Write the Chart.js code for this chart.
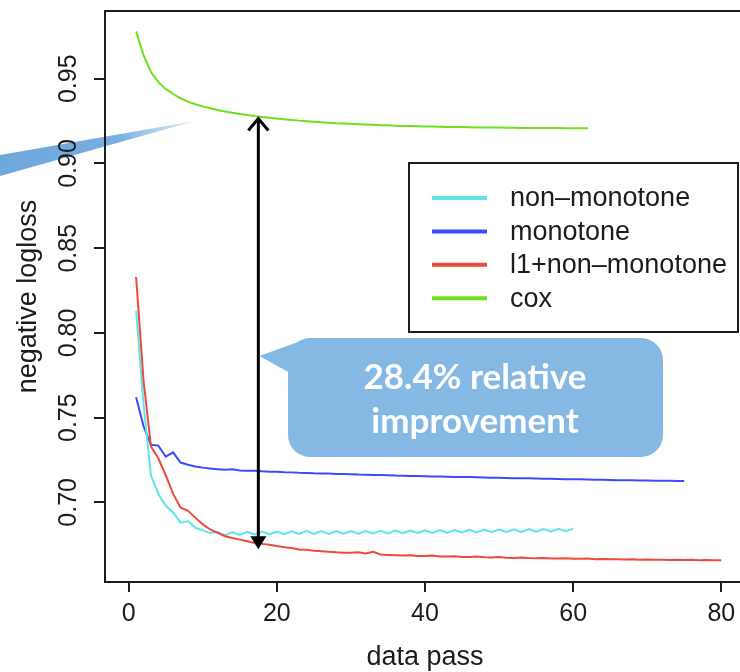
<!DOCTYPE html>
<html>
<head>
<meta charset="utf-8">
<script src="https://cdn.jsdelivr.net/npm/chart.js@4"></script>
<style>
  html, body { margin: 0; padding: 0; overflow: hidden; background: #fff; }
  #wrap { width: 750px; height: 672px; }
</style>
</head>
<body>
<div id="wrap"><canvas id="chart" width="750" height="672"></canvas></div>
<script>
// negative logloss per data pass
const seriesNames = ["non\u2013monotone", "monotone", "l1+non\u2013monotone", "cox"];
const seriesColors = ["#5ee4ea", "#3a4cfa", "#ec4a3c", "#70df1e"];

const nonMonotone = [
  0.813, 0.758, 0.716, 0.705, 0.698, 0.694, 0.688, 0.689, 0.685, 0.6835,
  0.682, 0.6825, 0.6805, 0.6825, 0.6808, 0.6826, 0.681, 0.6828, 0.6812, 0.6828,
  0.6812, 0.6829, 0.6813, 0.683, 0.6814, 0.683, 0.6814, 0.683, 0.6815, 0.6831,
  0.6815, 0.6831, 0.6816, 0.6832, 0.6817, 0.6833, 0.6818, 0.6834, 0.6819, 0.6835,
  0.682, 0.6836, 0.6821, 0.6837, 0.6822, 0.6838, 0.6823, 0.6839, 0.6824, 0.684,
  0.6825, 0.6841, 0.6826, 0.6842, 0.6827, 0.6843, 0.6828, 0.6844, 0.683, 0.6845
];
const monotone = [
  0.762, 0.745, 0.734, 0.7335, 0.727, 0.7295, 0.7235, 0.7222, 0.7212, 0.7205,
  0.72, 0.7196, 0.7192, 0.7196, 0.7188, 0.7186, 0.7187, 0.7183, 0.7181, 0.718,
  0.7178, 0.7177, 0.7175, 0.7174, 0.7172, 0.7171, 0.717, 0.7168, 0.7167, 0.7166,
  0.7164, 0.7163, 0.7162, 0.7161, 0.716, 0.7158, 0.7157, 0.7156, 0.7155, 0.7154,
  0.7153, 0.7152, 0.7151, 0.715, 0.715, 0.7149, 0.7148, 0.7147, 0.7146, 0.7145,
  0.7144, 0.7143, 0.7143, 0.7142, 0.7141, 0.714, 0.7139, 0.7138, 0.7137, 0.7137,
  0.7136, 0.7135, 0.7134, 0.7133, 0.7132, 0.7131, 0.7131, 0.713, 0.7129, 0.7129,
  0.7128, 0.7127, 0.7127, 0.7126, 0.7126
];
const l1NonMonotone = [
  0.833, 0.772, 0.733, 0.726, 0.716, 0.705, 0.697, 0.695, 0.691, 0.687,
  0.684, 0.682, 0.68, 0.679, 0.678, 0.677, 0.676, 0.6755, 0.675, 0.6743,
  0.6735, 0.673, 0.6722, 0.672, 0.6715, 0.6712, 0.6708, 0.6705, 0.6703, 0.6702,
  0.6705, 0.6698, 0.6708, 0.6692, 0.669, 0.6688, 0.6686, 0.6688, 0.6684, 0.6683,
  0.6686, 0.6681, 0.668, 0.6682, 0.6678, 0.6677, 0.668, 0.6676, 0.6675, 0.6677,
  0.6673, 0.6672, 0.6674, 0.6671, 0.667, 0.6672, 0.6669, 0.6668, 0.667, 0.6667,
  0.6667, 0.6668, 0.6665, 0.6666, 0.6664, 0.6665, 0.6663, 0.6664, 0.6662, 0.6663,
  0.6661, 0.6662, 0.666, 0.6661, 0.666, 0.6662, 0.6659, 0.666, 0.6658, 0.6659
];
const cox = [
  0.978, 0.964, 0.954, 0.948, 0.944, 0.941, 0.9385, 0.9365, 0.935, 0.9337,
  0.9326, 0.9316, 0.9307, 0.9299, 0.9292, 0.9286, 0.928, 0.9275, 0.927, 0.9265,
  0.9261, 0.9257, 0.9253, 0.925, 0.9247, 0.9244, 0.9241, 0.9238, 0.9236, 0.9234,
  0.9232, 0.923, 0.9228, 0.9226, 0.9225, 0.9223, 0.9222, 0.9221, 0.922, 0.9219,
  0.9218, 0.9217, 0.9216, 0.9215, 0.9215, 0.9214, 0.9213, 0.9213, 0.9212, 0.9212,
  0.9211, 0.9211, 0.921, 0.921, 0.921, 0.9209, 0.9209, 0.9209, 0.9208, 0.9208,
  0.9208, 0.9208
];

const xTicks = [0, 20, 40, 60, 80];
const yTicks = [0.70, 0.75, 0.80, 0.85, 0.90, 0.95];

// arrow between cox and the best curve at pass 17.5
const arrowPass = 17.5;
const arrowFrom = 0.9277;
const arrowTo = 0.6723;
const calloutLines = ["28.4% relative", "improvement"];

const allSeries = [nonMonotone, monotone, l1NonMonotone, cox];
const inkColor = "#1c1c1c";
const baseFont = "'Liberation Sans', Arial, sans-serif";

const datasets = allSeries.map((vals, k) => ({
  label: seriesNames[k],
  data: vals.map((v, i) => ({ x: i + 1, y: v })),
  borderColor: seriesColors[k],
  borderWidth: 2,
  pointRadius: 0,
  tension: 0,
  order: k === 2 ? 0 : k + 1
}));

function roundRect(ctx, x, y, w, h, r) {
  ctx.beginPath();
  ctx.moveTo(x + r, y);
  ctx.lineTo(x + w - r, y);
  ctx.arcTo(x + w, y, x + w, y + r, r);
  ctx.lineTo(x + w, y + h - r);
  ctx.arcTo(x + w, y + h, x + w - r, y + h, r);
  ctx.lineTo(x + r, y + h);
  ctx.arcTo(x, y + h, x, y + h - r, r);
  ctx.lineTo(x, y + r);
  ctx.arcTo(x, y, x + r, y, r);
  ctx.closePath();
}

const decorations = {
  id: "decorations",
  beforeDraw(chart) {
    const ctx = chart.ctx;
    ctx.save();
    ctx.fillStyle = "#fff";
    ctx.fillRect(0, 0, chart.width, chart.height);
    // pointer of another callout coming in from the left
    const g = ctx.createLinearGradient(0, 0, 195, 0);
    g.addColorStop(0, "#6ea7dc");
    g.addColorStop(0.6, "#78aee0");
    g.addColorStop(1, "rgba(170,205,240,0.45)");
    ctx.fillStyle = g;
    ctx.beginPath();
    ctx.moveTo(0, 155);
    ctx.lineTo(195, 121);
    ctx.lineTo(0, 176);
    ctx.closePath();
    ctx.fill();
    ctx.restore();
  },
  afterDraw(chart) {
    const ctx = chart.ctx;
    const a = chart.chartArea;
    const xs = chart.scales.x, ys = chart.scales.y;
    ctx.save();

    // plot frame
    ctx.strokeStyle = inkColor;
    ctx.lineWidth = 2;
    ctx.strokeRect(a.left, a.top, a.right - a.left, a.bottom - a.top);

    // legend
    const lx = 409, ly = 163, lw = 329, lh = 169;
    ctx.fillStyle = "#fff";
    ctx.fillRect(lx, ly, lw, lh);
    ctx.strokeStyle = inkColor;
    ctx.lineWidth = 2;
    ctx.strokeRect(lx, ly, lw, lh);
    ctx.font = "27px " + baseFont;
    ctx.textBaseline = "middle";
    ctx.textAlign = "left";
    chart.data.datasets.forEach((ds, i) => {
      const ry = 198 + i * 33.4;
      ctx.strokeStyle = ds.borderColor;
      ctx.lineWidth = 4;
      ctx.beginPath();
      ctx.moveTo(432, ry);
      ctx.lineTo(487, ry);
      ctx.stroke();
      ctx.fillStyle = inkColor;
      ctx.fillText(ds.label, 510, ry + 1);
    });

    // double arrow
    const ax = xs.getPixelForValue(arrowPass);
    const ay1 = ys.getPixelForValue(arrowFrom);
    const ay2 = ys.getPixelForValue(arrowTo);
    ctx.strokeStyle = "#000";
    ctx.fillStyle = "#000";
    ctx.lineWidth = 3;
    ctx.beginPath();
    ctx.moveTo(ax, ay1 + 2);
    ctx.lineTo(ax, ay2 - 10);
    ctx.stroke();
    ctx.beginPath();
    ctx.moveTo(ax - 10, ay1 + 14);
    ctx.lineTo(ax, ay1 + 2);
    ctx.lineTo(ax + 10, ay1 + 14);
    ctx.stroke();
    ctx.beginPath();
    ctx.moveTo(ax - 8, ay2 - 13);
    ctx.lineTo(ax + 8, ay2 - 13);
    ctx.lineTo(ax, ay2);
    ctx.closePath();
    ctx.fill();

    // callout bubble
    ctx.fillStyle = "#85b9e4";
    roundRect(ctx, 288, 338, 375, 119, 22);
    ctx.fill();
    ctx.beginPath();
    ctx.moveTo(298, 342);
    ctx.lineTo(ax + 1, 356);
    ctx.lineTo(290, 373);
    ctx.closePath();
    ctx.fill();
    ctx.fillStyle = "#fff";
    ctx.font = "bold 35px Lato, 'Open Sans', sans-serif";
    ctx.textAlign = "center";
    ctx.textBaseline = "middle";
    ctx.fillText(calloutLines[0], 475, 378);
    ctx.fillText(calloutLines[1], 475, 422);
    ctx.restore();
  }
};

new Chart(document.getElementById("chart"), {
  type: "line",
  data: { datasets },
  plugins: [decorations],
  options: {
    responsive: false,
    animation: false,
    devicePixelRatio: 1,
    layout: { padding: { top: 11, right: 5, left: 0, bottom: 0 } },
    plugins: { legend: { display: false }, tooltip: { enabled: false } },
    scales: {
      x: {
        type: "linear",
        min: -3.2,
        max: 83.2,
        afterBuildTicks: s => { s.ticks = xTicks.map(v => ({ value: v })); },
        afterFit: s => { s.height = 90; s.paddingLeft = 0; s.paddingRight = 0; },
        ticks: { font: { size: 25, family: baseFont }, color: inkColor, padding: 7 },
        grid: { drawOnChartArea: false, drawTicks: true, tickLength: 10, color: inkColor, lineWidth: 2 },
        border: { display: true, color: inkColor, width: 2 },
        title: { display: true, text: "data pass", font: { size: 27, family: baseFont }, color: inkColor, padding: { top: 0, bottom: -2 } }
      },
      y: {
        type: "linear",
        min: 0.653,
        max: 0.990,
        afterBuildTicks: s => { s.ticks = yTicks.map(v => ({ value: v })); },
        afterFit: s => { s.width = 105; s.paddingTop = 0; s.paddingBottom = 0; },
        ticks: {
          font: { size: 25, family: baseFont }, color: inkColor,
          minRotation: 90, maxRotation: 90, crossAlign: "center", padding: 1,
          callback: v => v.toFixed(2)
        },
        grid: { drawOnChartArea: false, drawTicks: true, tickLength: 11, color: inkColor, lineWidth: 2 },
        border: { display: true, color: inkColor, width: 2 },
        title: { display: true, text: "negative logloss", font: { size: 27, family: baseFont }, color: inkColor, padding: { top: 12, bottom: 0 } }
      }
    }
  }
});
</script>
</body>
</html>
